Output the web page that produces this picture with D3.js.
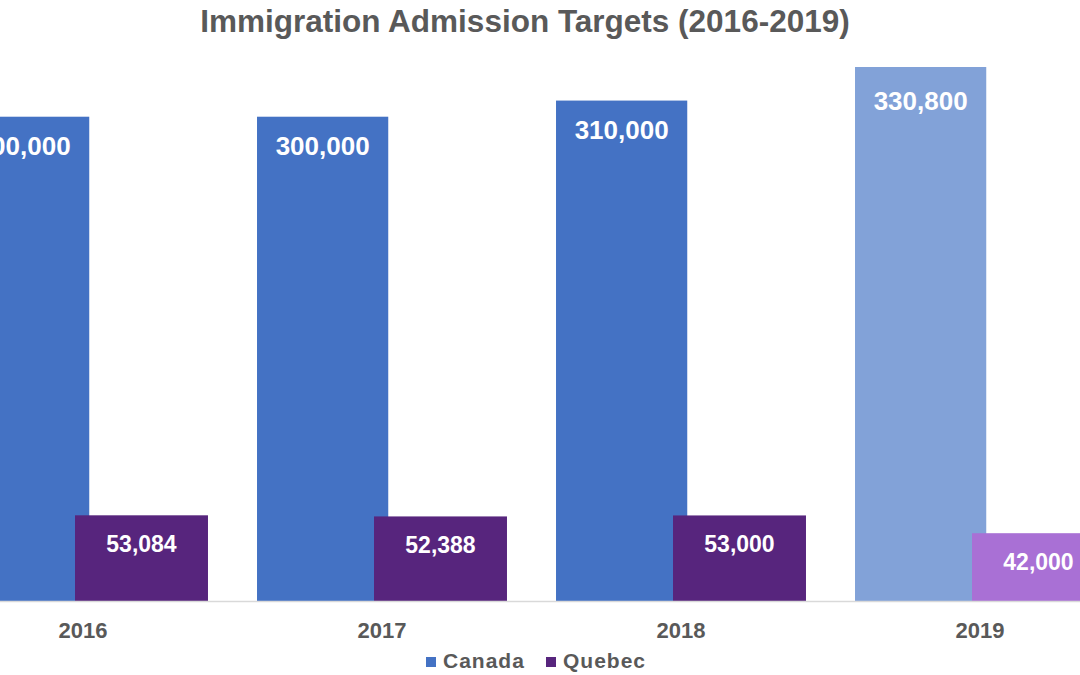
<!DOCTYPE html>
<html>
<head>
<meta charset="utf-8">
<script src="https://cdn.jsdelivr.net/npm/d3@7"></script>
<style>
  html, body { margin: 0; padding: 0; background: #ffffff; }
  svg { display: block; }
  text { font-family: "Liberation Sans", Arial, sans-serif; font-weight: bold; }
</style>
</head>
<body>
<svg id="chart" width="1080" height="675"></svg>
<script>
const years = ["2016", "2017", "2018", "2019"];
const canada = [300000, 300000, 310000, 330800];
const quebec = [53084, 52388, 53000, 42000];
const seriesNames = ["Canada", "Quebec"];
const title = "Immigration Admission Targets (2016-2019)";

const W = 1080, H = 675;
const svg = d3.select("#chart");

const canadaColors = ["#4472C4", "#4472C4", "#4472C4", "#82A2D8"];
const quebecColors = ["#57257D", "#57257D", "#57257D", "#A970D5"];
const legendColors = ["#4472C4", "#57257D"];
const textGrey = "#595959";

const x = d3.scaleBand()
  .domain(years)
  .range([-66.5, 1129.5])
  .paddingInner(0.164)
  .paddingOuter(0.082);

const y = d3.scaleLinear().domain([0, 350000]).range([601, 36]);

const bw = x.bandwidth();
const cW = bw * 0.525;
const qX = bw * 0.468;
const qW = bw * 0.532;

// Title
svg.append("text")
  .attr("x", 525).attr("y", 32)
  .attr("text-anchor", "middle")
  .attr("font-size", 31.5)
  .attr("fill", textGrey)
  .text(title);

// Canada bars
svg.selectAll(".canada").data(years).enter().append("rect")
  .attr("x", d => x(d))
  .attr("y", (d, i) => y(canada[i]))
  .attr("width", cW)
  .attr("height", (d, i) => y(0) - y(canada[i]))
  .attr("fill", (d, i) => canadaColors[i]);

// Quebec bars
svg.selectAll(".quebec").data(years).enter().append("rect")
  .attr("x", d => x(d) + qX)
  .attr("y", (d, i) => y(quebec[i]))
  .attr("width", qW)
  .attr("height", (d, i) => y(0) - y(quebec[i]))
  .attr("fill", (d, i) => quebecColors[i]);

const fmt = d3.format(",");

// Canada labels
svg.selectAll(".clab").data(years).enter().append("text")
  .attr("x", d => x(d) + cW / 2)
  .attr("y", (d, i) => y(canada[i]) + (i === 3 ? 43 : 38))
  .attr("text-anchor", "middle")
  .attr("font-size", 26)
  .attr("fill", "#ffffff")
  .text((d, i) => fmt(canada[i]));

// Quebec labels
svg.selectAll(".qlab").data(years).enter().append("text")
  .attr("x", d => x(d) + qX + qW / 2)
  .attr("y", (d, i) => y(quebec[i]) + 37)
  .attr("text-anchor", "middle")
  .attr("font-size", 23)
  .attr("fill", "#ffffff")
  .text((d, i) => fmt(quebec[i]));

// Axis
const axis = svg.append("g")
  .attr("transform", `translate(0,${y(0)})`)
  .call(d3.axisBottom(x).tickSize(0).tickPadding(0));
axis.select(".domain").remove();
axis.append("line")
  .attr("x1", 0).attr("x2", W).attr("y1", 0.5).attr("y2", 0.5)
  .attr("stroke", "#D9D9D9").attr("stroke-width", 1.5);
axis.selectAll(".tick text")
  .attr("y", 37).attr("dy", 0)
  .attr("font-family", "Liberation Sans, Arial, sans-serif")
  .attr("font-weight", "bold")
  .attr("font-size", 22)
  .attr("fill", textGrey);

// Legend
const legendX = [426, 546];
const lg = svg.selectAll(".leg").data(seriesNames).enter().append("g")
  .attr("transform", (d, i) => `translate(${legendX[i]},0)`);
lg.append("rect")
  .attr("x", 0).attr("y", 657).attr("width", 10).attr("height", 10)
  .attr("fill", (d, i) => legendColors[i]);
lg.append("text")
  .attr("x", 17).attr("y", 668)
  .attr("font-size", 21)
  .attr("letter-spacing", 1)
  .attr("fill", textGrey)
  .text(d => d);
</script>
</body>
</html>
